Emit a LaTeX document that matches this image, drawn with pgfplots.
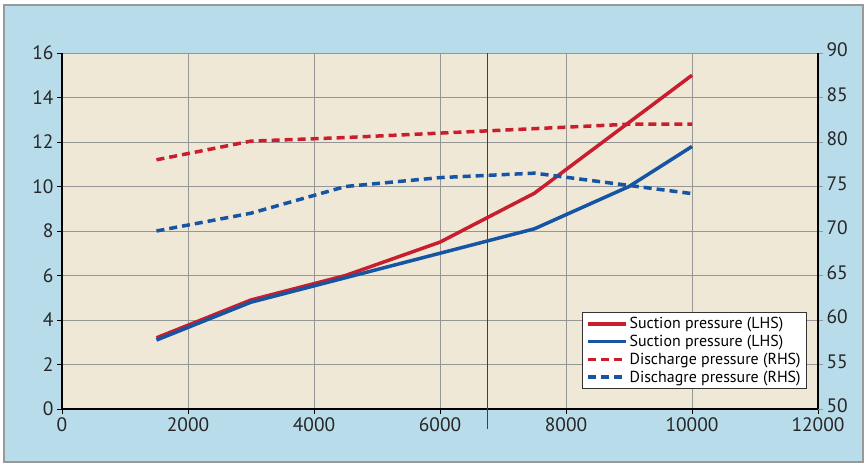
\documentclass[border=0pt]{standalone}
\usepackage{pgfplots}
\pgfplotsset{compat=1.18}
\usepackage{fontspec}
\setmainfont{PT Sans}
\definecolor{bgblue}{RGB}{184,220,234}
\definecolor{beige}{RGB}{240,232,214}
\definecolor{cred}{RGB}{200,30,45}
\definecolor{cblue}{RGB}{22,84,164}
\definecolor{gridgray}{RGB}{150,150,150}
\begin{document}
\begin{tikzpicture}
\useasboundingbox (-62bp,-57bp) rectangle (805bp,409bp);
\fill[bgblue] (-58bp,-53bp) rectangle (801bp,404bp);
\draw[gray!80, line width=1.5bp] (-58bp,-53bp) rectangle (801bp,404bp);
\pgfplotsset{
  every axis/.append style={
    width=756bp, height=356bp, scale only axis,
    /pgf/number format/assume math mode=true,
    /pgf/number format/1000 sep={},
    tick label style={font=\fontsize{19.5}{21}\selectfont, color=black!85},
    tick align=outside, major tick length=5bp,
    xmin=0, xmax=12000,
  }
}
\begin{axis}[
  ymin=0, ymax=16,
  xtick={0,2000,...,12000}, ytick={0,2,...,16},
  scaled x ticks=false,
  axis x line*=bottom, axis y line*=left,
  axis line style={black, line width=1.2bp},
  axis background/.style={fill=beige},
  grid=major, grid style={gridgray, line width=0.8bp},
  tick style={black, line width=0.8bp},
  xticklabel style={yshift=-0.5bp},
  clip=false,
]
\draw[color={rgb,255:red,40;green,65;blue,115}, line width=1bp] (axis cs:6760,-0.9) -- (axis cs:6760,16);
\addplot[cred, line width=3.5bp] coordinates {(1500,3.2) (3000,4.9) (4500,6.0) (6000,7.5) (7500,9.7) (10000,15.0)};
\addplot[cblue, line width=3.5bp] coordinates {(1500,3.1) (3000,4.8) (4500,5.9) (6000,7.0) (7500,8.1) (9000,10.0) (10000,11.8)};
\end{axis}
\begin{axis}[
  ymin=50, ymax=90,
  ytick={50,55,...,90},
  axis x line=none, axis y line*=right,
  axis line style={black, line width=1.2bp},
  tick style={gridgray, line width=0.8bp},
  yticklabel style={yshift=3bp},
  legend style={at={(0.9855,0.056)}, anchor=south east, draw=black!80, fill=white,
    font=\fontsize{16}{18}\selectfont, cells={anchor=west}, line width=0.8bp,
    inner xsep=4bp, inner ysep=3bp, row sep=1bp},
  legend image code/.code={\draw[#1] (0bp,0bp) -- (38bp,0bp);},
]
\addlegendimage{cred, line width=3.5bp}
\addlegendentry{Suction pressure (LHS)}
\addlegendimage{cblue, line width=3.5bp}
\addlegendentry{Suction pressure (LHS)}
\addplot[cred, line width=3.5bp, dash pattern=on 8bp off 5bp] coordinates {(1500,78.0) (3000,80.1) (4500,80.5) (6000,81.0) (7500,81.5) (9000,82.0) (10000,82.0)};
\addlegendentry{Discharge pressure (RHS)}
\addplot[cblue, line width=3.5bp, dash pattern=on 8bp off 5bp] coordinates {(1500,70.0) (3000,72.0) (4500,75.0) (6000,76.0) (7500,76.5) (10000,74.2)};
\addlegendentry{Dischagre pressure (RHS)}
\end{axis}
\end{tikzpicture}
\end{document}
